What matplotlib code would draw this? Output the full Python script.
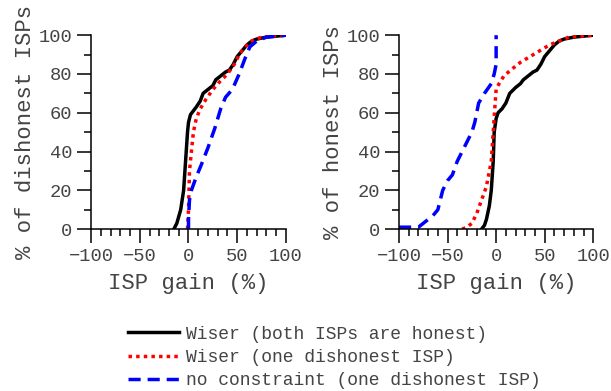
import matplotlib
matplotlib.use('Agg')
import matplotlib.pyplot as plt
from matplotlib.ticker import MultipleLocator

plt.rcParams['font.family'] = ['Liberation Mono', 'DejaVu Sans Mono']
plt.rcParams['font.size'] = 13.5

# left panel: dishonest ISPs
dis_wiser_honest_x = [-15, -12, -8, -5, -3, -1, 0, 2, 5, 8, 12, 15, 20, 25, 28, 33, 38, 42, 46, 50, 55, 60, 65, 70, 80, 100]
dis_wiser_honest_y = [0, 3, 10, 20, 35, 50, 55, 59, 61, 63, 66, 70, 72, 74, 77, 79, 81, 82, 85, 89, 92, 95, 97, 98, 99, 100]
dis_wiser_dis_x = [-1, 0, 1, 3, 5, 8, 12, 18, 25, 32, 40, 47, 52, 58, 65, 75, 100]
dis_wiser_dis_y = [0, 10, 30, 40, 50, 57, 62, 67, 72, 76, 80, 85, 90, 94, 97, 99, 100]
dis_nocons_x = [0, 0, 1, 3, 8, 13, 20, 27, 33, 38, 45, 52, 58, 63, 70, 80, 100]
dis_nocons_y = [0, 5, 15, 20, 27, 33, 42, 52, 62, 68, 72, 80, 88, 94, 97, 99, 100]

# right panel: honest ISPs
hon_wiser_honest_x = [-15, -12, -10, -7, -5, -3, -2, 0, 2, 6, 10, 14, 20, 25, 28, 33, 38, 42, 46, 50, 55, 60, 65, 70, 80, 100]
hon_wiser_honest_y = [0, 2, 5, 12, 20, 35, 50, 57, 60, 62, 65, 70, 73, 75, 77, 79, 81, 82, 85, 89, 92, 95, 97, 98, 99, 100]
hon_wiser_dis_x = [-35, -30, -25, -20, -15, -10, -5, -3, -1, 0, 3, 8, 15, 25, 35, 45, 55, 65, 75, 100]
hon_wiser_dis_y = [0, 1, 3, 8, 15, 22, 35, 50, 65, 72, 75, 79, 82, 86, 89, 92, 95, 97, 99, 100]
hon_nocons_x = [-100, -85, -80, -75, -65, -60, -55, -50, -45, -40, -35, -30, -25, -22, -18, -12, -5, -2, 0, 0]
hon_nocons_y = [1, 1, 1, 3, 7, 10, 20, 25, 28, 35, 40, 45, 50, 55, 65, 70, 75, 80, 85, 100]

labels = ['Wiser (both ISPs are honest)',
          'Wiser (one dishonest ISP)',
          'no constraint (one dishonest ISP)']

fig = plt.figure(figsize=(6.11, 3.91), dpi=100)
ax1 = fig.add_axes([0.149, 0.414, 0.319, 0.496])
ax2 = fig.add_axes([0.653, 0.414, 0.318, 0.496])


def draw(ax, bx, by, rx, ry, ux, uy, ylabel):
    l1, = ax.plot(bx, by, color='black', lw=2.5, ls='-')
    l2, = ax.plot(rx, ry, color='red', lw=2.5, ls=(0, (1, 1.2)))
    l3, = ax.plot(ux, uy, color='blue', lw=2.5, ls=(0, (3.5, 2)))
    ax.set_xlim(-100, 100)
    ax.set_ylim(0, 100)
    ax.set_xticks([-100, -50, 0, 50, 100])
    ax.set_yticks([0, 20, 40, 60, 80, 100])
    ax.xaxis.set_minor_locator(MultipleLocator(10))
    ax.yaxis.set_minor_locator(MultipleLocator(10))
    ax.tick_params(which='major', direction='out', length=10, width=1.1, colors='black', labelcolor='#444444')
    ax.tick_params(which='minor', direction='out', length=5, width=1.1)
    ax.spines['top'].set_visible(False)
    ax.spines['right'].set_visible(False)
    ax.spines['left'].set_linewidth(1.1)
    ax.spines['bottom'].set_linewidth(1.1)
    ax.set_xlabel('ISP gain (%)', color='#444444', fontsize=16, labelpad=6)
    ax.set_ylabel(ylabel, color='#444444', fontsize=16, labelpad=2)
    return l1, l2, l3


handles = draw(ax1, dis_wiser_honest_x, dis_wiser_honest_y, dis_wiser_dis_x, dis_wiser_dis_y,
               dis_nocons_x, dis_nocons_y, '% of dishonest ISPs')
draw(ax2, hon_wiser_honest_x, hon_wiser_honest_y, hon_wiser_dis_x, hon_wiser_dis_y,
     hon_nocons_x, hon_nocons_y, '% of honest ISPs')

fig.legend(handles, labels, loc='upper left', bbox_to_anchor=(0.195, 0.19), frameon=False,
           handlelength=2.8, handletextpad=0.4, labelspacing=0.35, borderpad=0,
           labelcolor='#444444', fontsize=13)

fig.savefig('out.png', dpi=100)
